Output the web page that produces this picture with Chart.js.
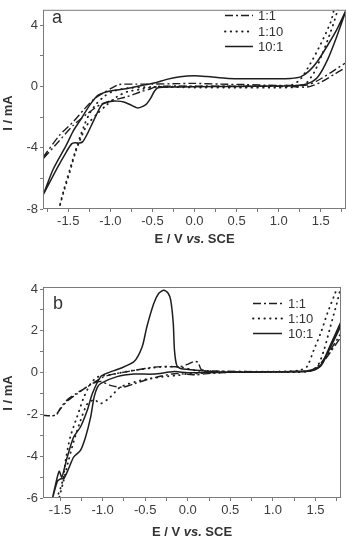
<!DOCTYPE html>
<html>
<head>
<meta charset="utf-8">
<script src="https://cdn.jsdelivr.net/npm/chart.js@4.4.1/dist/chart.umd.min.js"></script>
<style>
  html, body { margin: 0; padding: 0; background: #fff; }
  #wrap { position: relative; width: 347px; height: 539px; overflow: hidden; }
  canvas { position: absolute; left: 0; }
</style>
</head>
<body>
<div id="wrap">
  <canvas id="cvA" width="347" height="250" style="top:0px"></canvas>
  <canvas id="cvB" width="347" height="269" style="top:270px"></canvas>
</div>
<script>
// ---- data (E in V vs. SCE, I in mA), each loop: forward sweep then return sweep ----
const seriesNames = ['1:1', '1:10', '10:1'];

// panel a
const aE_1to1 = [-1.80,-1.60,-1.44,-1.32,-1.20,-1.08,-0.98,-0.90,-0.70,-0.50,-0.20,0.00,0.30,0.60,1.00,1.20,1.34,1.46,1.62,1.82,
                 1.82,1.66,1.50,1.34,1.20,1.00,0.50,0.00,-0.45,-0.52,-0.64,-0.80,-0.96,-1.12,-1.28,-1.44,-1.63,-1.80];
const aI_1to1 = [-4.63,-3.17,-2.30,-1.55,-0.85,-0.42,-0.10,0.12,0.15,0.15,0.18,0.20,0.15,0.12,0.06,0.06,0.08,0.37,0.90,1.60,
                 1.35,0.79,0.27,-0.04,-0.02,0.00,0.02,0.02,0.00,-0.15,-0.35,-0.67,-0.88,-1.19,-1.81,-2.54,-3.69,-4.73];

const aE_1to10 = [-1.63,-1.555,-1.48,-1.42,-1.36,-1.30,-1.24,-1.16,-1.06,-0.96,-0.80,-0.60,-0.30,0.00,0.50,1.00,1.16,1.26,1.38,1.50,1.62,1.68,
                  1.72,1.62,1.52,1.42,1.32,1.22,1.00,0.50,0.00,-0.48,-0.64,-0.80,-0.92,-1.04,-1.16,-1.28,-1.36,-1.42,-1.48,-1.555,-1.63];
const aI_1to10 = [-8.40,-6.80,-5.40,-4.30,-3.30,-2.40,-1.70,-1.10,-0.60,-0.30,-0.12,-0.05,-0.02,0.00,0.00,0.02,0.10,0.48,1.52,2.77,4.23,5.40,
                  5.40,3.60,2.14,0.90,0.17,-0.04,-0.08,-0.08,-0.07,-0.04,-0.19,-0.35,-0.67,-1.19,-1.81,-2.54,-3.50,-4.40,-5.56,-6.90,-8.40];

const aE_10to1 = [-1.80,-1.675,-1.52,-1.44,-1.36,-1.24,-1.14,-1.00,-0.88,-0.75,-0.64,-0.48,-0.33,-0.17,0.00,0.15,0.40,0.65,0.94,1.14,1.26,1.36,1.46,1.58,1.70,1.81,
                  1.81,1.70,1.58,1.46,1.34,1.22,1.00,0.50,0.00,-0.25,-0.44,-0.48,-0.52,-0.57,-0.62,-0.68,-0.76,-0.84,-0.92,-1.00,-1.10,-1.18,-1.28,-1.33,-1.37,-1.42,-1.46,-1.52,-1.635,-1.80];
const aI_10to1 = [-7.10,-5.36,-3.80,-2.90,-2.23,-1.19,-0.56,-0.30,-0.20,-0.08,0.05,0.22,0.46,0.63,0.69,0.64,0.52,0.50,0.50,0.52,0.62,1.00,1.63,2.67,3.81,5.10,
                  5.10,3.40,1.73,0.58,0.17,0.06,0.02,0.00,-0.02,-0.04,-0.10,-0.35,-0.77,-1.15,-1.32,-1.40,-1.20,-1.02,-0.96,-0.98,-1.19,-2.02,-3.17,-3.62,-3.70,-3.68,-3.75,-4.25,-5.36,-7.10];

// panel b
const bE_1to1 = [-1.72,-1.55,-1.50,-1.415,-1.30,-1.18,-1.10,-1.00,-0.85,-0.71,-0.50,-0.32,-0.09,0.00,0.07,0.12,0.16,0.30,0.80,1.20,1.45,1.55,1.675,1.82,
                 1.82,1.68,1.55,1.45,1.00,0.50,0.20,0.10,0.00,-0.16,-0.44,-0.63,-0.77,-0.91,-1.02,-1.14,-1.30,-1.415,-1.50,-1.56,-1.72];
const bI_1to1 = [-2.04,-2.04,-1.72,-1.30,-0.97,-0.68,-0.47,-0.22,-0.05,0.05,0.20,0.29,0.29,0.40,0.53,0.50,0.15,0.08,0.05,0.05,0.12,0.40,1.08,2.00,
                 1.85,1.00,0.30,0.08,0.04,0.03,-0.06,-0.10,-0.08,-0.05,-0.29,-0.53,-0.70,-0.61,-0.42,-0.56,-1.02,-1.36,-1.76,-2.04,-2.04];

const bE_1to10 = [-1.57,-1.50,-1.46,-1.435,-1.38,-1.30,-1.22,-1.14,-1.06,-0.91,-0.63,-0.32,-0.09,0.10,0.50,1.00,1.30,1.40,1.48,1.56,1.64,1.73,1.79,
                  1.83,1.79,1.75,1.675,1.60,1.52,1.40,1.00,0.50,0.00,-0.12,-0.32,-0.555,-0.79,-0.91,-1.02,-1.10,-1.18,-1.26,-1.34,-1.40,-1.46,-1.53];
const bI_1to10 = [-6.30,-5.60,-5.00,-4.20,-3.08,-2.12,-1.17,-0.53,-0.21,-0.10,0.11,0.27,0.27,0.10,0.05,0.05,0.10,0.29,1.08,1.88,2.84,3.79,4.40,
                  4.40,3.95,3.30,2.20,1.08,0.29,0.05,0.03,0.02,-0.05,-0.13,-0.21,-0.37,-0.69,-1.17,-1.48,-1.30,-1.50,-2.30,-3.30,-4.20,-5.20,-6.30];

const bE_10to1 = [-1.61,-1.555,-1.51,-1.48,-1.45,-1.415,-1.34,-1.26,-1.18,-1.12,-1.02,-0.95,-0.79,-0.63,-0.535,-0.48,-0.40,-0.34,-0.28,-0.23,-0.20,-0.17,-0.156,-0.13,-0.086,0.15,0.38,0.80,1.20,1.44,1.56,1.675,1.82,
                  1.82,1.675,1.56,1.44,1.00,0.50,0.00,-0.16,-0.40,-0.63,-0.83,-1.02,-1.06,-1.10,-1.14,-1.20,-1.26,-1.34,-1.40,-1.455,-1.49,-1.53,-1.58,-1.61];
const bI_10to1 = [-6.40,-5.40,-4.72,-5.00,-4.60,-4.04,-3.08,-2.60,-1.80,-1.00,-0.18,-0.03,0.21,0.53,1.24,2.20,3.30,3.80,3.95,3.80,3.47,2.36,1.08,0.36,0.20,0.10,0.03,0.03,0.05,0.10,0.36,1.32,2.60,
                  2.45,1.20,0.30,0.08,0.03,0.02,0.00,0.05,-0.07,-0.07,-0.19,-0.51,-0.69,-1.17,-2.12,-3.08,-3.72,-4.04,-4.60,-5.07,-5.08,-5.20,-5.90,-6.40];

// ticks
const aXMajor = [-1.5, -1.0, -0.5, 0.0, 0.5, 1.0, 1.5];
const aXMinor = [-1.75, -1.25, -0.75, -0.25, 0.25, 0.75, 1.25, 1.75];
const aYMajor = [-8, -4, 0, 4];
const aYMinor = [-6, -2, 2];
const bXMajor = [-1.5, -1.0, -0.5, 0.0, 0.5, 1.0, 1.5];
const bXMinor = [-1.25, -0.75, -0.25, 0.25, 0.75, 1.25, 1.75];
const bYMajor = [-6, -4, -2, 0, 2, 4];
const bYMinor = [-5, -3, -1, 1, 3];

const FONT = '"Liberation Sans", Arial, sans-serif';
const INK = '#1e1e1e';
const lineStyles = {
  '1:1':  { borderDash: [8, 3, 2, 3], borderWidth: 1.4, borderCapStyle: 'butt' },
  '1:10': { borderDash: [0.5, 5.2],   borderWidth: 1.8, borderCapStyle: 'round' },
  '10:1': { borderDash: [],           borderWidth: 1.5, borderCapStyle: 'butt' }
};

function pts(xs, ys) {
  return xs.map((x, i) => ({ x: x, y: ys[i] }));
}

function makeDatasets(lists) {
  return seriesNames.map((name, i) => Object.assign({
    label: name,
    data: pts(lists[i][0], lists[i][1]),
    borderColor: INK,
    showLine: true,
    pointRadius: 0,
    tension: 0.25,
    fill: false
  }, lineStyles[name]));
}

function axis(min, max, major, minor, fmt, isY) {
  return {
    type: 'linear',
    min: min,
    max: max,
    afterBuildTicks: s => { s.ticks = major.concat(minor).sort((p, q) => p - q).map(v => ({ value: v })); },
    afterFit: s => { if (isY) s.width = 43; else s.height = 41; },
    ticks: {
      autoSkip: false,
      maxRotation: 0,
      padding: 2,
      color: '#3c3c3c',
      font: { family: FONT, size: 13 },
      callback: v => major.some(m => Math.abs(m - v) < 1e-9) ? fmt(v) : ''
    },
    grid: { drawOnChartArea: false, drawTicks: true, tickLength: 3, tickColor: '#7a7a7a', tickWidth: 1 },
    border: { display: false }
  };
}

// frame, panel letter, axis titles and legend
const decor = {
  id: 'decor',
  afterDraw(chart, args, o) {
    const ctx = chart.ctx;
    const ca = chart.chartArea;
    ctx.save();
    ctx.strokeStyle = '#7a7a7a';
    ctx.lineWidth = 1;
    ctx.strokeRect(ca.left + 0.5, ca.top + 0.5, ca.right - ca.left - 1, ca.bottom - ca.top - 1);

    ctx.fillStyle = '#333';
    ctx.textBaseline = 'alphabetic';
    ctx.textAlign = 'left';
    ctx.font = '18px ' + FONT;
    ctx.fillText(o.letter, o.letterX, o.letterY);

    // x title with italic "vs."
    const parts = [['E / V ', 'bold'], ['vs.', 'italic bold'], [' SCE', 'bold']];
    let total = 0;
    parts.forEach(p => { ctx.font = p[1] + ' 13px ' + FONT; total += ctx.measureText(p[0]).width; });
    let x = (ca.left + ca.right) / 2 - total / 2;
    ctx.textBaseline = 'middle';
    parts.forEach(p => {
      ctx.font = p[1] + ' 13px ' + FONT;
      ctx.fillText(p[0], x, ca.bottom + o.xTitleOff);
      x += ctx.measureText(p[0]).width;
    });

    // y title
    ctx.save();
    ctx.translate(8, o.yTitleY);
    ctx.rotate(-Math.PI / 2);
    ctx.textAlign = 'center';
    ctx.font = 'bold 13px ' + FONT;
    ctx.fillText('I / mA', 0, 0);
    ctx.restore();

    // legend
    chart.data.datasets.forEach((ds, i) => {
      const y = o.legY[i];
      ctx.save();
      ctx.strokeStyle = ds.borderColor;
      ctx.lineWidth = ds.borderWidth;
      ctx.lineCap = ds.borderCapStyle;
      ctx.setLineDash(ds.borderDash);
      ctx.beginPath();
      ctx.moveTo(o.legX0, y + 0.5);
      ctx.lineTo(o.legX1, y + 0.5);
      ctx.stroke();
      ctx.restore();
      ctx.fillStyle = '#333';
      ctx.textAlign = 'left';
      ctx.textBaseline = 'middle';
      ctx.font = '13px ' + FONT;
      ctx.fillText(ds.label, o.legTx, y + 1);
    });
    ctx.restore();
  }
};

function build(id, datasets, xAxis, yAxis, pad, decorOpts) {
  return new Chart(document.getElementById(id), {
    type: 'scatter',
    data: { datasets: datasets },
    options: {
      responsive: false,
      animation: false,
      events: [],
      layout: { padding: pad, autoPadding: false },
      scales: { x: xAxis, y: yAxis },
      plugins: { legend: { display: false }, tooltip: { enabled: false }, decor: decorOpts }
    },
    plugins: [decor]
  });
}

const fx = v => v.toFixed(1);
const fy = v => String(v);

build('cvA',
  makeDatasets([[aE_1to1, aI_1to1], [aE_1to10, aI_1to10], [aE_10to1, aI_10to1]]),
  axis(-1.8, 1.8, aXMajor, aXMinor, fx, false),
  axis(-8, 5, aYMajor, aYMinor, fy, true),
  { top: 1, right: 1, left: 0, bottom: 0 },
  { letter: 'a', letterX: 52, letterY: 23, xTitleOff: 30, yTitleY: 113,
    legX0: 225, legX1: 253, legTx: 258, legY: [15, 31, 46] });

build('cvB',
  makeDatasets([[bE_1to1, bI_1to1], [bE_1to10, bI_1to10], [bE_10to1, bI_10to1]]),
  axis(-1.7, 1.8, bXMajor, bXMinor, fx, false),
  axis(-6, 4.1, bYMajor, bYMinor, fy, true),
  { top: 17, right: 6, left: 0, bottom: 0 },
  { letter: 'b', letterX: 53, letterY: 39, xTitleOff: 34, yTitleY: 123,
    legX0: 253, legX1: 282, legTx: 288, legY: [33, 48, 63] });
</script>
</body>
</html>
